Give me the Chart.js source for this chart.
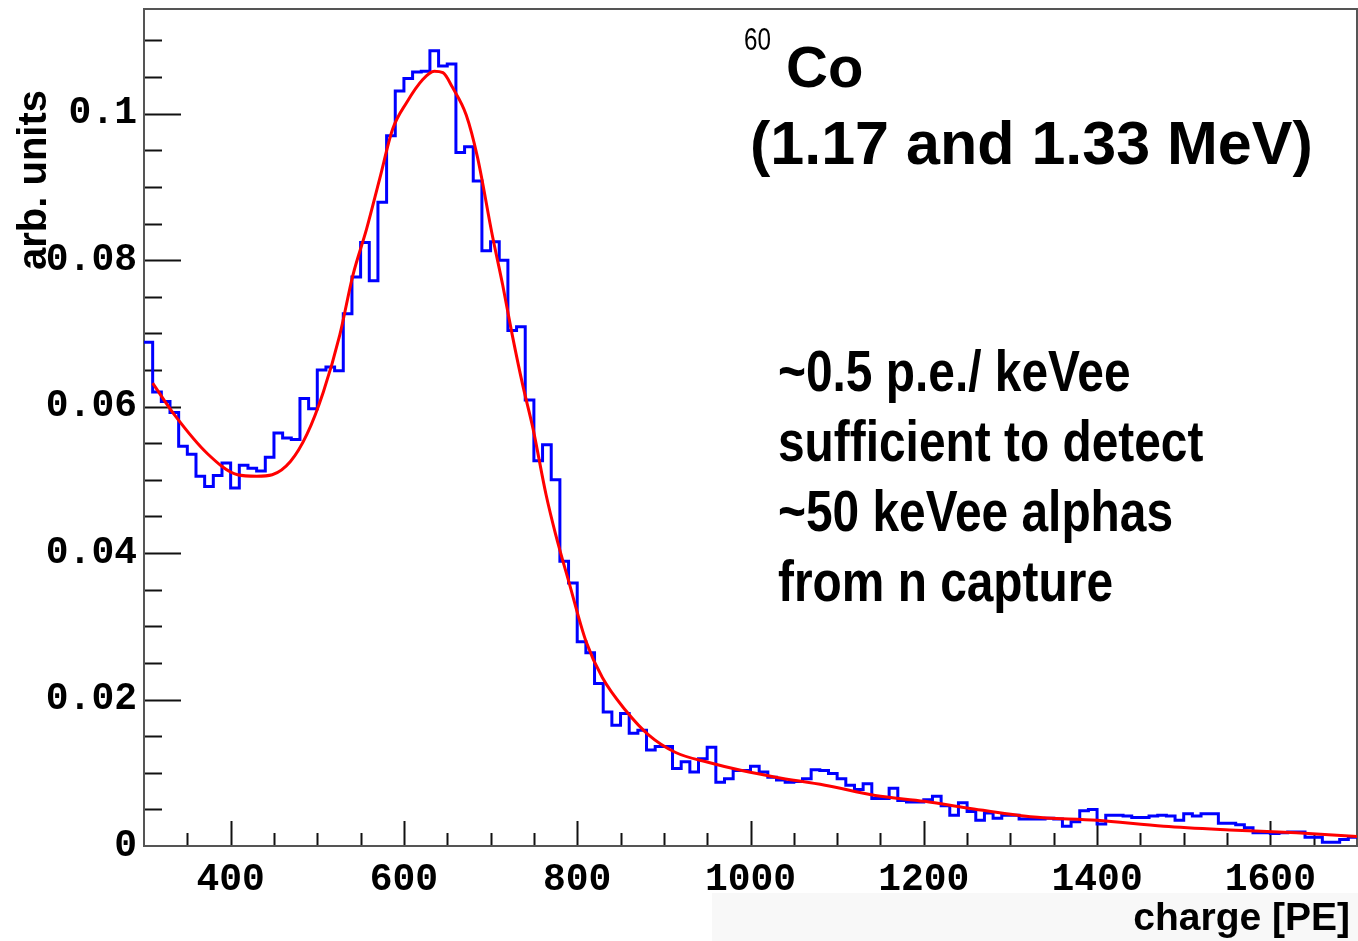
<!DOCTYPE html>
<html>
<head>
<meta charset="utf-8">
<script src="https://cdn.jsdelivr.net/npm/chart.js@4.4.1/dist/chart.umd.min.js"></script>
<style>
  html, body { margin: 0; padding: 0; background: #fff; }
  #wrap { width: 1358px; height: 941px; position: relative; }
</style>
</head>
<body>
<div id="wrap"><canvas id="chart" width="1358" height="941"></canvas></div>
<script>
// histogram: 10 PE bins starting at 300 PE
const binLow = 300;
const binWidth = 10;
const counts = [
  0.0688, 0.0620, 0.0607, 0.0592, 0.0546, 0.0535, 0.0505, 0.0491, 0.0506, 0.0523,
  0.0489, 0.0520, 0.0516, 0.0512, 0.0531, 0.0564, 0.0557, 0.0555, 0.0611, 0.0597,
  0.0650, 0.0654, 0.0649, 0.0727, 0.0777, 0.0824, 0.0772, 0.0879, 0.0970, 0.1031,
  0.1048, 0.1057, 0.1058, 0.1086, 0.1065, 0.1068, 0.0947, 0.0955, 0.0908, 0.0813,
  0.0825, 0.0800, 0.0704, 0.0709, 0.0609, 0.0526, 0.0548, 0.0500, 0.0389, 0.0359,
  0.0279, 0.0264, 0.0222, 0.0183, 0.0165, 0.0181, 0.0154, 0.0158, 0.0131, 0.0136,
  0.0136, 0.0106, 0.0115, 0.0101, 0.0119, 0.0135, 0.0087, 0.0092, 0.0103, 0.0103,
  0.0109, 0.0101, 0.0094, 0.0090, 0.0087, 0.0088, 0.0092, 0.0104, 0.0103, 0.0099,
  0.0092, 0.0083, 0.0077, 0.0085, 0.0065, 0.0065, 0.0079, 0.0062, 0.0060, 0.0060,
  0.0063, 0.0068, 0.0055, 0.0042, 0.0059, 0.0047, 0.0035, 0.0045, 0.0038, 0.0042,
  0.0042, 0.0037, 0.0037, 0.0037, 0.0038, 0.0037, 0.0027, 0.0033, 0.0048, 0.0050,
  0.0030, 0.0042, 0.0042, 0.0041, 0.0039, 0.0039, 0.0041, 0.0042, 0.0041, 0.0035,
  0.0044, 0.0041, 0.0044, 0.0044, 0.0031, 0.0031, 0.0029, 0.0025, 0.0018, 0.0018,
  0.0017, 0.0018, 0.0019, 0.0019, 0.0012, 0.0012, 0.0005, 0.0005, 0.0009, 0.0012
];

// fit curve
const fitCharge = [310, 335, 373, 408, 430, 448, 469, 488, 507, 526, 541, 557, 572, 587, 603,
  622, 635, 645, 656, 672, 685, 702, 714, 725, 737, 749, 764, 775, 791, 810, 829, 856, 883,
  913, 952, 990, 1029, 1086, 1144, 1201, 1250, 1323, 1400, 1477, 1553, 1630, 1700];
const fitValue = [0.0632, 0.0589, 0.0536, 0.0507, 0.0505, 0.0507, 0.0525, 0.0562, 0.0620,
  0.0698, 0.0779, 0.0843, 0.0911, 0.0979, 0.1015, 0.1047, 0.1058, 0.1056, 0.1036, 0.0998,
  0.0940, 0.0834, 0.0766, 0.0698, 0.0630, 0.0570, 0.0480, 0.0426, 0.0358, 0.0280, 0.0230,
  0.0185, 0.0151, 0.0128, 0.0114, 0.0103, 0.0094, 0.0083, 0.0069, 0.0061, 0.0052, 0.0040,
  0.0035, 0.0027, 0.0022, 0.0018, 0.0013];

const xTickValues = [400, 600, 800, 1000, 1200, 1400, 1600];
const yTickValues = [0, 0.02, 0.04, 0.06, 0.08, 0.1];
const xRange = [300, 1700];
const yRange = [0, 0.1143];
const xMinorStep = 50;
const yMinorStep = 0.005;

const noteLines = ['~0.5 p.e./ keVee', 'sufficient to detect', '~50 keVee alphas', 'from n capture'];

// histogram outline points at bin edges
const histPoints = counts.map((v, i) => ({ x: binLow + i * binWidth, y: v }));
histPoints.push({ x: binLow + counts.length * binWidth, y: counts[counts.length - 1] });
const fitPoints = fitCharge.map((x, i) => ({ x, y: fitValue[i] }));

// condensed bold text (no narrow font installed, so squeeze horizontally)
function narrowText(ctx, text, x, y, squeeze) {
  ctx.save();
  ctx.translate(x, y);
  ctx.scale(squeeze, 1);
  ctx.fillText(text, 0, 0);
  ctx.restore();
}

const rootFrame = {
  id: 'rootFrame',
  beforeDraw(chart) {
    const ctx = chart.ctx;
    ctx.save();
    ctx.fillStyle = '#fff';
    ctx.fillRect(0, 0, chart.width, chart.height);
    ctx.fillStyle = '#f8f8f8';
    ctx.fillRect(712, 893, chart.width - 712, chart.height - 893);
    ctx.restore();
  },
  beforeDatasetsDraw(chart) {
    const { ctx, chartArea: a, scales: { x, y } } = chart;
    ctx.save();
    ctx.strokeStyle = '#111';
    ctx.lineWidth = 2;
    // y ticks, inward
    const nY = Math.floor(yRange[1] / yMinorStep);
    for (let k = 1; k <= nY; k++) {
      const v = k * yMinorStep;
      const py = Math.round(y.getPixelForValue(v)) + 0.5;
      const len = k % 4 === 0 ? 37 : 18;
      ctx.beginPath();
      ctx.moveTo(a.left, py);
      ctx.lineTo(a.left + len, py);
      ctx.stroke();
    }
    // x ticks, inward
    for (let v = xRange[0] + xMinorStep; v < xRange[1]; v += xMinorStep) {
      const px = Math.round(x.getPixelForValue(v)) + 0.5;
      const len = v % 200 === 0 ? 25 : 13;
      ctx.beginPath();
      ctx.moveTo(px, a.bottom);
      ctx.lineTo(px, a.bottom - len);
      ctx.stroke();
    }
    // frame
    ctx.strokeStyle = '#555';
    ctx.lineWidth = 2;
    ctx.strokeRect(a.left, a.top, a.right - a.left, a.bottom - a.top);
    ctx.restore();
  },
  afterDraw(chart) {
    const ctx = chart.ctx;
    ctx.save();
    ctx.fillStyle = '#000';
    ctx.textBaseline = 'alphabetic';
    ctx.textAlign = 'left';

    ctx.font = '31px "Liberation Sans", Arial';
    narrowText(ctx, '60', 744, 50, 0.78);
    ctx.font = 'bold 58px "Liberation Sans", Arial';
    ctx.fillText('Co', 786, 87);
    ctx.font = 'bold 61px "Liberation Sans", Arial';
    ctx.fillText('(1.17 and 1.33 MeV)', 750, 164);

    ctx.font = 'bold 58px "Liberation Sans", Arial';
    noteLines.forEach((t, i) => narrowText(ctx, t, 778, 391 + i * 70, 0.825));

    // axis titles
    ctx.font = 'bold 39px "Liberation Sans", Arial';
    ctx.textAlign = 'right';
    ctx.fillText('charge [PE]', 1350, 930);

    ctx.translate(46, 90);
    ctx.rotate(-Math.PI / 2);
    ctx.font = 'bold 40px "Liberation Sans", Arial';
    ctx.textAlign = 'right';
    ctx.fillText('arb. units', 0, 0);
    ctx.restore();
  }
};

const tickFont = { family: '"Liberation Mono", "DejaVu Sans Mono", monospace', size: 38, weight: 'bold' };

new Chart(document.getElementById('chart'), {
  type: 'line',
  data: {
    datasets: [
      {
        label: 'fit',
        data: fitPoints,
        borderColor: '#ff0000',
        borderWidth: 3,
        pointRadius: 0,
        cubicInterpolationMode: 'monotone',
        fill: false
      },
      {
        label: 'charge',
        data: histPoints,
        borderColor: '#0000ff',
        borderWidth: 3,
        pointRadius: 0,
        stepped: true,
        fill: false
      }
    ]
  },
  options: {
    responsive: false,
    animation: false,
    devicePixelRatio: 1,
    layout: { padding: { top: 9, right: 1, left: 0, bottom: 0 } },
    plugins: {
      legend: { display: false },
      tooltip: { enabled: false }
    },
    scales: {
      x: {
        type: 'linear',
        min: xRange[0],
        max: xRange[1],
        afterFit: s => { s.height = 95; s.paddingLeft = 0; s.paddingRight = 0; },
        afterBuildTicks: s => { s.ticks = xTickValues.map(v => ({ value: v })); },
        grid: { display: false, drawTicks: false },
        border: { display: false },
        ticks: {
          color: '#000',
          font: tickFont,
          padding: 12,
          maxRotation: 0,
          callback: v => String(v)
        }
      },
      y: {
        type: 'linear',
        min: yRange[0],
        max: yRange[1],
        afterFit: s => { s.width = 144; s.paddingTop = 0; s.paddingBottom = 0; },
        afterBuildTicks: s => { s.ticks = yTickValues.map(v => ({ value: v })); },
        grid: { display: false, drawTicks: false },
        border: { display: false },
        ticks: {
          color: '#000',
          font: tickFont,
          padding: 7,
          callback: v => v === 0 ? '0' : String(+v.toFixed(2))
        }
      }
    }
  },
  plugins: [rootFrame]
});
</script>
</body>
</html>
